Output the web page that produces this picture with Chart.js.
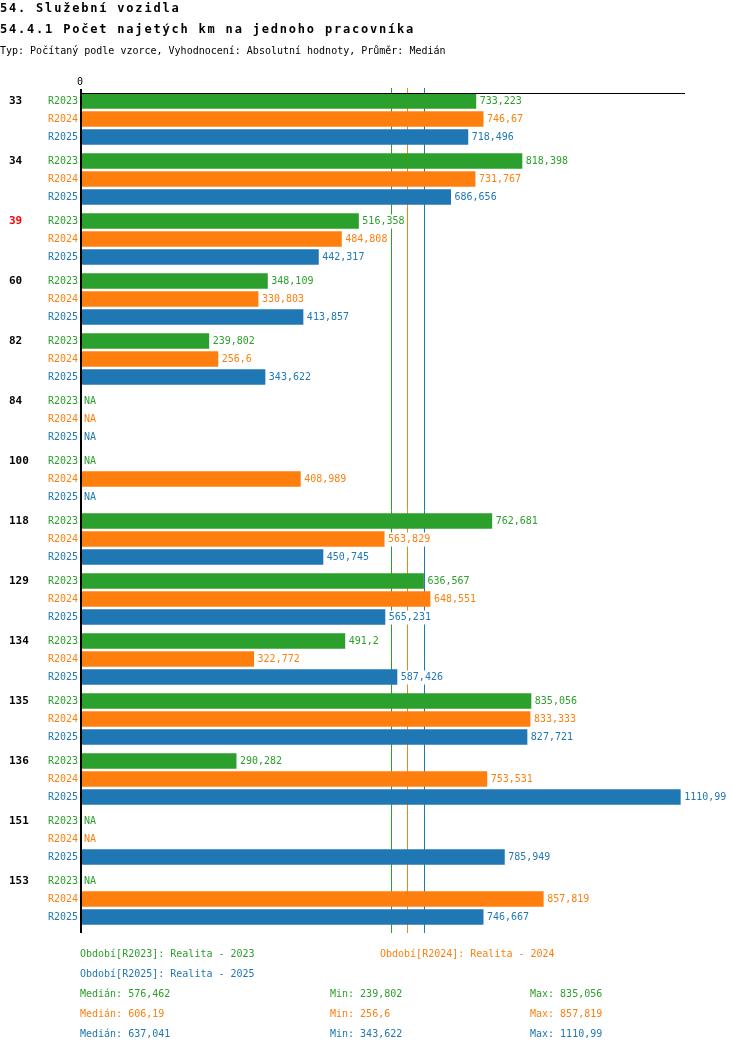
<!DOCTYPE html>
<html>
<head>
<meta charset="utf-8">
<script src="https://cdn.jsdelivr.net/npm/chart.js@4.4.1/dist/chart.umd.min.js"></script>
<style>
  body { margin: 0; background: #fff; }
  #wrap { position: relative; width: 750px; height: 1052px; font-family: "DejaVu Sans Mono", monospace; }
  #wrap canvas { position: absolute; left: 0; top: 0; }
  .t { position: absolute; left: 0; white-space: pre; }
  .t1 { font-size: 12px; font-weight: bold; letter-spacing: 1.8px; line-height: 16px; color: #000; }
  .t3 { font-size: 10px; line-height: 12px; color: #000; }
  .f { position: absolute; font-size: 10px; line-height: 12px; white-space: pre; }
</style>
</head>
<body>
<div id="wrap">
  <canvas id="chart" width="750" height="1052"></canvas>
  <div class="t t1" style="top:0px">54. Služební vozidla</div>
  <div class="t t1" style="top:21px">54.4.1 Počet najetých km na jednoho pracovníka</div>
  <div class="t t3" style="top:45px">Typ: Počítaný podle vzorce, Vyhodnocení: Absolutní hodnoty, Průměr: Medián</div>
  <div id="footer"></div>
</div>
<script>
// data
var categories = ['33', '34', '39', '60', '82', '84', '100', '118', '129', '134', '135', '136', '151', '153'];
var highlighted = ['39'];
var seriesNames = ['R2023', 'R2024', 'R2025'];
var seriesTitles = ['Realita - 2023', 'Realita - 2024', 'Realita - 2025'];
var r2023 = [733.223, 818.398, 516.358, 348.109, 239.802, null, null, 762.681, 636.567, 491.2, 835.056, 290.282, null, null];
var r2024 = [746.67, 731.767, 484.808, 330.803, 256.6, null, 408.989, 563.829, 648.551, 322.772, 833.333, 753.531, null, 857.819];
var r2025 = [718.496, 686.656, 442.317, 413.857, 343.622, null, null, 450.745, 565.231, 587.426, 827.721, 1110.99, 785.949, 746.667];
var medians = [576.462, 606.19, 637.041];
var mins = [239.802, 256.6, 343.622];
var maxs = [835.056, 857.819, 1110.99];
var colors = ['#2ca02c', '#ff7f0e', '#1f77b4'];

var MONO = '"DejaVu Sans Mono", monospace';

function fmt(v) {
  return String(v).replace('.', ',');
}

// lines, row labels and value labels
var rowLabels = {
  id: 'rowLabels',
  beforeDatasetsDraw: function(chart) {
    var ctx = chart.ctx, x = chart.scales.x, area = chart.chartArea;
    ctx.save();
    ctx.lineWidth = 1;
    medians.forEach(function(m, i) {
      var px = Math.round(x.getPixelForValue(m)) + 0.5;
      ctx.strokeStyle = colors[i];
      ctx.beginPath();
      ctx.moveTo(px, area.top - 1);
      ctx.lineTo(px, area.bottom + 4);
      ctx.stroke();
    });
    ctx.restore();
  },
  afterDatasetsDraw: function(chart) {
    var ctx = chart.ctx, x = chart.scales.x, area = chart.chartArea;
    ctx.save();

    // axes
    ctx.strokeStyle = '#000';
    ctx.lineWidth = 1;
    ctx.beginPath();
    ctx.moveTo(80, area.top + 4.5);
    ctx.lineTo(area.right, area.top + 4.5);
    ctx.stroke();
    ctx.lineWidth = 2;
    ctx.beginPath();
    ctx.moveTo(81, area.top);
    ctx.lineTo(81, area.bottom + 4);
    ctx.stroke();

    ctx.fillStyle = '#000';
    ctx.font = '10px ' + MONO;
    ctx.textAlign = 'center';
    ctx.textBaseline = 'middle';
    ctx.fillText('0', 80, area.top - 7);

    chart.data.datasets.forEach(function(ds, k) {
      var meta = chart.getDatasetMeta(k);
      meta.data.forEach(function(bar, i) {
        var y = bar.y + 0.5;
        ctx.textBaseline = 'middle';

        if (k === 0) {
          ctx.font = 'bold 11px ' + MONO;
          ctx.textAlign = 'left';
          ctx.fillStyle = highlighted.indexOf(categories[i]) >= 0 ? '#ff0000' : '#000';
          ctx.fillText(categories[i], 9, y);
        }

        ctx.font = '10px ' + MONO;
        ctx.fillStyle = colors[k];
        ctx.textAlign = 'right';
        ctx.fillText(seriesNames[k], 78, y);

        ctx.textAlign = 'left';
        var v = ds.data[i];
        if (v === null) {
          ctx.fillText('NA', 84, y);
          return;
        }
        var txt = fmt(v);
        var tx = x.getPixelForValue(v) + 3.5;
        var w = ctx.measureText(txt).width;
        ctx.fillStyle = '#fff';
        ctx.fillRect(tx - 1, y - 7, w + 2, 14);
        ctx.fillStyle = colors[k];
        ctx.fillText(txt, tx, y);
      });
    });
    ctx.restore();
  }
};

var datasets = [r2023, r2024, r2025].map(function(values, k) {
  return {
    label: seriesNames[k],
    data: values,
    backgroundColor: colors[k],
    borderWidth: 0,
    barPercentage: 0.87,
    categoryPercentage: 0.9
  };
});

new Chart(document.getElementById('chart').getContext('2d'), {
  type: 'bar',
  data: { labels: categories, datasets: datasets },
  options: {
    indexAxis: 'y',
    responsive: false,
    animation: false,
    layout: { padding: { left: 81, right: 65, top: 89, bottom: 123 } },
    scales: {
      x: { type: 'linear', min: 3, max: 1119, display: false },
      y: { type: 'category', display: false }
    },
    plugins: { legend: { display: false }, tooltip: { enabled: false } }
  },
  plugins: [rowLabels]
});

// legend and summary under the chart
var footer = document.getElementById('footer');
function addText(txt, left, cy, color) {
  var d = document.createElement('div');
  d.className = 'f';
  d.style.left = left + 'px';
  d.style.top = (cy - 6) + 'px';
  d.style.color = color;
  d.textContent = txt;
  footer.appendChild(d);
}
addText('Období[' + seriesNames[0] + ']: ' + seriesTitles[0], 80, 954, colors[0]);
addText('Období[' + seriesNames[1] + ']: ' + seriesTitles[1], 380, 954, colors[1]);
addText('Období[' + seriesNames[2] + ']: ' + seriesTitles[2], 80, 974, colors[2]);
for (var k = 0; k < 3; k++) {
  addText('Medián: ' + fmt(medians[k]), 80, 994 + k * 20, colors[k]);
  addText('Min: ' + fmt(mins[k]), 330, 994 + k * 20, colors[k]);
  addText('Max: ' + fmt(maxs[k]), 530, 994 + k * 20, colors[k]);
}
</script>
</body>
</html>
